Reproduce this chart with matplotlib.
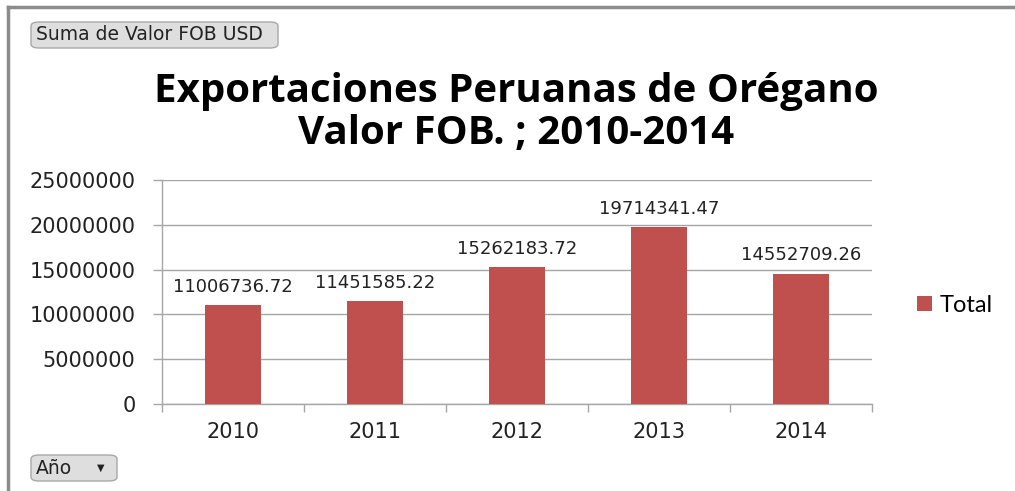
import matplotlib
matplotlib.use("Agg")
import matplotlib.pyplot as plt
from matplotlib.patches import FancyBboxPatch
from matplotlib.lines import Line2D
import numpy as np

years = ["2010", "2011", "2012", "2013", "2014"]
values = [11006736.72, 11451585.22, 15262183.72, 19714341.47, 14552709.26]
yticks = [0, 5000000, 10000000, 15000000, 20000000, 25000000]
title = "Exportaciones Peruanas de Orégano\nValor FOB. ; 2010-2014"
legend_label = "Total"
field_button = "Suma de Valor FOB USD"
axis_button = "Año"

BAR = "#C0504D"
GRID = "#A6A6A6"
W, H = 1015, 491

fig = plt.figure(figsize=(W / 100, H / 100), dpi=100)
fig.patch.set_facecolor("white")

ax = fig.add_axes([162 / W, 1 - 404 / H, (872 - 162) / W, (404 - 180) / H])
x = np.arange(len(years))
bars = ax.bar(x, values, width=0.39, color=BAR, zorder=3)
ax.set_xlim(-0.5, len(years) - 0.5)
ax.set_ylim(0, 25000000)
ax.set_yticks(yticks)
ax.set_yticklabels([str(v) for v in yticks], fontsize=15, family="DejaVu Sans", color="#222222")
ax.yaxis.grid(True, color=GRID, linewidth=1, zorder=0)
ax.set_xticks(x)
ax.set_xticklabels(years, fontsize=15, family="DejaVu Sans", color="#222222")
ax.tick_params(axis="x", length=0, pad=13)
ax.set_xticks(np.arange(-0.5, len(years)), minor=True)
ax.tick_params(axis="x", which="minor", length=6, color=GRID, width=1)
ax.tick_params(axis="y", length=6.5, color=GRID, width=1, pad=12.5)
for s in ["top", "right"]:
    ax.spines[s].set_visible(False)
for s in ["left", "bottom"]:
    ax.spines[s].set_color(GRID)
    ax.spines[s].set_linewidth(1)

for xi, v in zip(x, values):
    ax.annotate(f"{v:.2f}", (xi, v), xytext=(0, 7), textcoords="offset points",
                ha="center", va="bottom", fontsize=13, family="DejaVu Sans", color="#222222")

fig.text(516 / W, 1 - 112 / H, title, ha="center", va="center", fontsize=29,
         fontweight="bold", family="Open Sans", linespacing=1.1, color="black")

# legend
leg = ax.legend([bars[0]], [legend_label], loc="center left", bbox_to_anchor=(908 / W, 1 - 305 / H),
                bbox_transform=fig.transFigure, frameon=False, prop={"family": "Lato", "size": 17},
                handlelength=0.6, handleheight=0.6, handletextpad=0.35, borderaxespad=0)

# outer frame (left + top)
fig.add_artist(Line2D([8 / W, 8 / W], [0, 1 - 7 / H], transform=fig.transFigure, color="#8C8C8C", lw=2.5))
fig.add_artist(Line2D([8 / W, 1], [1 - 7 / H, 1 - 7 / H], transform=fig.transFigure, color="#8C8C8C", lw=2.5))

def button(x0, y0, x1, y1, label, arrow=False):
    p = FancyBboxPatch((x0 / W, 1 - y1 / H), (x1 - x0) / W, (y1 - y0) / H,
                       boxstyle="round,pad=0,rounding_size=0.008", transform=fig.transFigure,
                       facecolor="#DEDEDE", edgecolor="#A8A8A8", linewidth=1)
    fig.add_artist(p)
    fig.text((x0 + 5) / W, 1 - (y0 + y1) / 2 / H, label, ha="left", va="center",
             fontsize=13.5, family="DejaVu Sans", color="#222222")
    if arrow:
        fig.text((x1 - 16) / W, 1 - (y0 + y1) / 2 / H, "▼", ha="center", va="center",
                 fontsize=7, family="DejaVu Sans", color="#222222")

button(31, 22, 278, 48, field_button)
button(31, 455, 117, 481, axis_button, arrow=True)

fig.savefig("out.png", dpi=100)
